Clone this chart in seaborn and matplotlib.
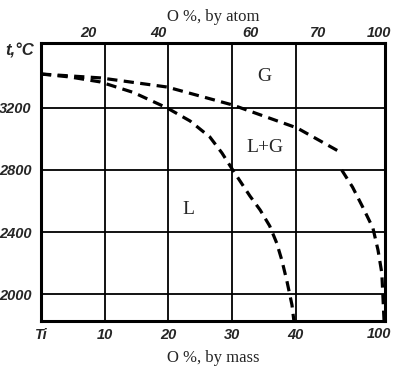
import numpy as np
import pandas as pd
import matplotlib
matplotlib.use('Agg')
import matplotlib.pyplot as plt
import seaborn as sns

# x positions are in "grid units": Ti=0, 10%=1, 20%=2, 30%=3, 40%=4, 100%~5.4 (mass scale)
mass_ticks = [0, 1, 2, 3, 4]
mass_labels = ['Ti', '10', '20', '30', '40']
mass_end_pos = 5.3
mass_end_label = '100'
atom_ticks = [0.737, 1.835, 3.294, 4.345]
atom_labels = ['20', '40', '60', '70']
atom_end_label = '100'
temp_ticks = [2000, 2400, 2800, 3200]

# upper boundary (G / L+G)
upper_x = [0.0, 0.93, 1.98, 3.01, 4.02, 4.72]
upper_t = [3419, 3394, 3335, 3219, 3071, 2910]
# lower boundary (L / L+G)
lower_x = [0.0, 0.45, 0.93, 1.45, 1.98, 2.34, 2.65, 2.84, 3.01, 3.28, 3.44, 3.59,
           3.70, 3.78, 3.86, 3.94, 3.97]
lower_t = [3419, 3400, 3368, 3300, 3200, 3116, 3013, 2910, 2800, 2632, 2542, 2439,
           2329, 2219, 2084, 1929, 1826]
# right boundary
right_x = [4.72, 4.89, 5.05, 5.21, 5.29, 5.35, 5.365, 5.385]
right_t = [2800, 2690, 2561, 2426, 2284, 2135, 2006, 1826]

region_labels = ['G', 'L+G', 'L']
region_x = [3.51, 3.51, 2.31]
region_t = [3400, 2948, 2542]

sns.set_style('white')
plt.rcParams['font.family'] = ['Liberation Serif', 'DejaVu Serif']

fig = plt.figure(figsize=(3.93, 3.67), dpi=100)
ax = fig.add_axes([41/393, 46/367, 344/393, 278/367])

tick_font = dict(family='Liberation Sans', weight='bold', style='italic', size=10.5)

for xs, ts in [(upper_x, upper_t), (lower_x, lower_t), (right_x, right_t)]:
    df = pd.DataFrame({'x': xs, 't': ts})
    sns.lineplot(data=df, x='x', y='t', sort=False, ax=ax, color='black',
                 linewidth=2.3, linestyle=(0, (3.2, 2.0)))

ax.set_xlim(0, 5.4)
ax.set_ylim(1826, 3619)

ax.set_xticks(mass_ticks)
ax.set_xticklabels(mass_labels, fontdict=tick_font)
ax.set_yticks(temp_ticks)
ax.set_yticklabels([str(t) for t in temp_ticks], fontdict=tick_font)
ax.tick_params(axis='both', length=0)
ax.tick_params(axis='x', pad=5)
ax.tick_params(axis='y', pad=7)
ax.grid(True, color='black', linewidth=1.3)
ax.set_axisbelow(True)
for s in ax.spines.values():
    s.set_color('black')
    s.set_linewidth(2.2)

ax.text(mass_end_pos, -0.02, mass_end_label, transform=ax.get_xaxis_transform(),
        ha='center', va='top', fontdict=tick_font)

ax.set_xlabel('O %, by mass', fontsize=12, labelpad=6)
ax.set_ylabel('')

# top axis: atom %
ax2 = ax.twiny()
ax2.set_xlim(ax.get_xlim())
ax2.set_xticks(atom_ticks + [mass_end_pos])
ax2.set_xticklabels(atom_labels + [atom_end_label], fontdict=tick_font)
ax2.set_xticks(atom_ticks, minor=True)
ax2.tick_params(axis='x', which='major', length=0, pad=2)
ax2.tick_params(axis='x', which='minor', direction='in', length=5, width=1.3,
                color='black', top=True)
ax2.set_xlabel('O %, by atom', fontsize=12, labelpad=4)
for s in ax2.spines.values():
    s.set_visible(False)

for lab, x, t in zip(region_labels, region_x, region_t):
    ax.text(x, t, lab, fontsize=14, ha='center', va='center')

fig.text(20/393, 1 - 51/367, 't,°C', ha='center', va='center',
         family='Liberation Sans', weight='bold', style='italic', size=12)

fig.savefig('out.png', dpi=100)
